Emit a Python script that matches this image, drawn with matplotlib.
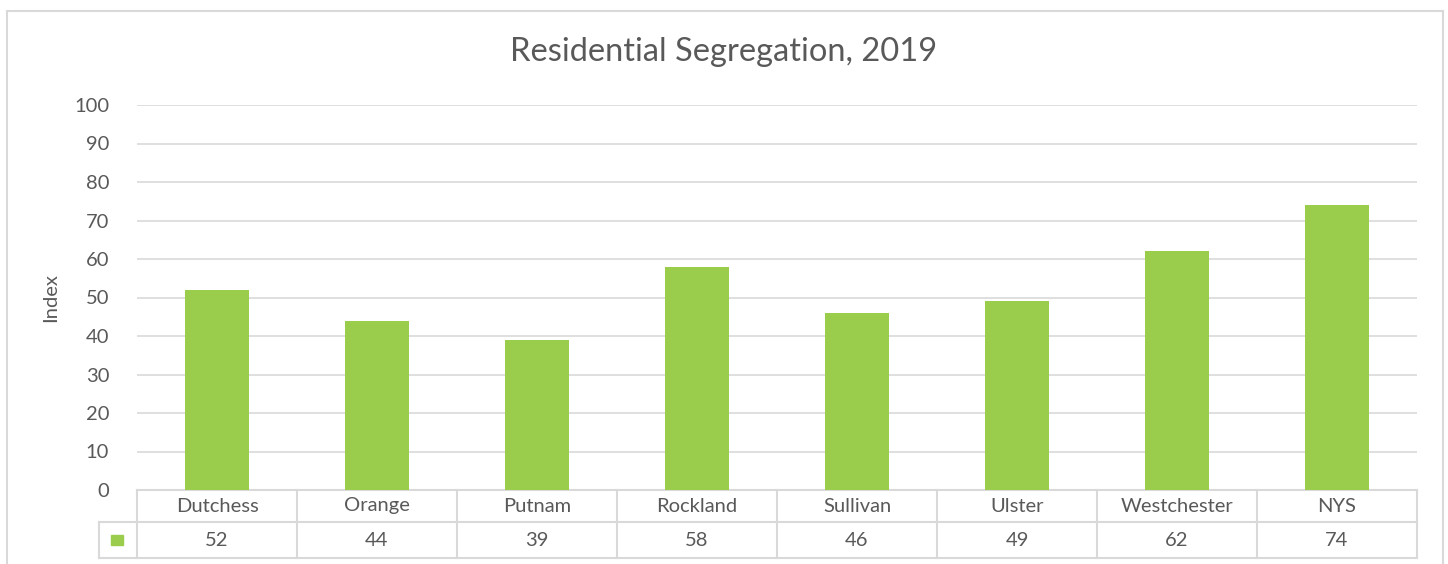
import matplotlib.pyplot as plt
from matplotlib.lines import Line2D
from matplotlib.patches import Rectangle
import matplotlib.transforms as mtransforms

counties = ['Dutchess', 'Orange', 'Putnam', 'Rockland', 'Sullivan', 'Ulster', 'Westchester', 'NYS']
index_values = [52, 44, 39, 58, 46, 49, 62, 74]
yticks = [0, 10, 20, 30, 40, 50, 60, 70, 80, 90, 100]

bar_color = '#9BCD4C'
text_color = '#595959'
line_color = '#D9D9D9'

plt.rcParams['font.family'] = ['Lato', 'DejaVu Sans']

W, H = 1448, 564
fig = plt.figure(figsize=(W / 100, H / 100), dpi=100)

# chart frame
fig.add_artist(Line2D([7 / W, 7 / W], [0, 1 - 11 / H], color=line_color, lw=1.5))
fig.add_artist(Line2D([7 / W, 1443 / W], [1 - 11 / H, 1 - 11 / H], color=line_color, lw=1.5))
fig.add_artist(Line2D([1443 / W, 1443 / W], [0, 1 - 11 / H], color=line_color, lw=1.5))

ax = fig.add_axes([137 / W, 74 / H, 1280 / W, 385 / H])
x = range(len(counties))
ax.bar(x, index_values, width=0.4, color=bar_color, zorder=3)
ax.set_xlim(-0.5, len(counties) - 0.5)
ax.set_ylim(0, 100)
ax.set_yticks(yticks)
ax.set_xticks([])
for s in ax.spines.values():
    s.set_visible(False)
ax.grid(axis='y', color=line_color, lw=1.2, zorder=0)
ax.tick_params(axis='y', length=0, pad=20, labelsize=14.5, labelcolor=text_color)
ax.set_ylabel('Index', fontsize=14.5, color=text_color)
ax.yaxis.set_label_coords(-0.061, 0.5)

fig.text(0.5, 1 - 52 / H, 'Residential Segregation, 2019', ha='center', va='center',
         fontsize=23.5, color=text_color)

# data table under the axis
trans = mtransforms.blended_transform_factory(ax.transData, ax.transAxes)
row1 = -32 / 385
row2 = -68 / 385
n = len(counties)
lkw = dict(color=line_color, lw=1.5, transform=trans, clip_on=False)
ax.add_line(Line2D([-0.5, n - 0.5], [0, 0], **lkw))
ax.add_line(Line2D([-0.74, n - 0.5], [row1, row1], **lkw))
ax.add_line(Line2D([-0.74, n - 0.5], [row2, row2], **lkw))
ax.add_line(Line2D([-0.74, -0.74], [row1, row2], **lkw))
for b in range(n + 1):
    ax.add_line(Line2D([b - 0.5, b - 0.5], [0, row2], **lkw))
for i, (name, val) in enumerate(zip(counties, index_values)):
    ax.text(i, row1 / 2, name, transform=trans, ha='center', va='center',
            fontsize=14.5, color=text_color)
    ax.text(i, (row1 + row2) / 2, str(val), transform=trans, ha='center', va='center',
            fontsize=14.5, color=text_color)
ax.add_patch(Rectangle((-0.665, (row1 + row2) / 2 - 0.014), 0.075, 0.028, color=bar_color,
                       transform=trans, clip_on=False))

fig.savefig('out.png', dpi=100)
